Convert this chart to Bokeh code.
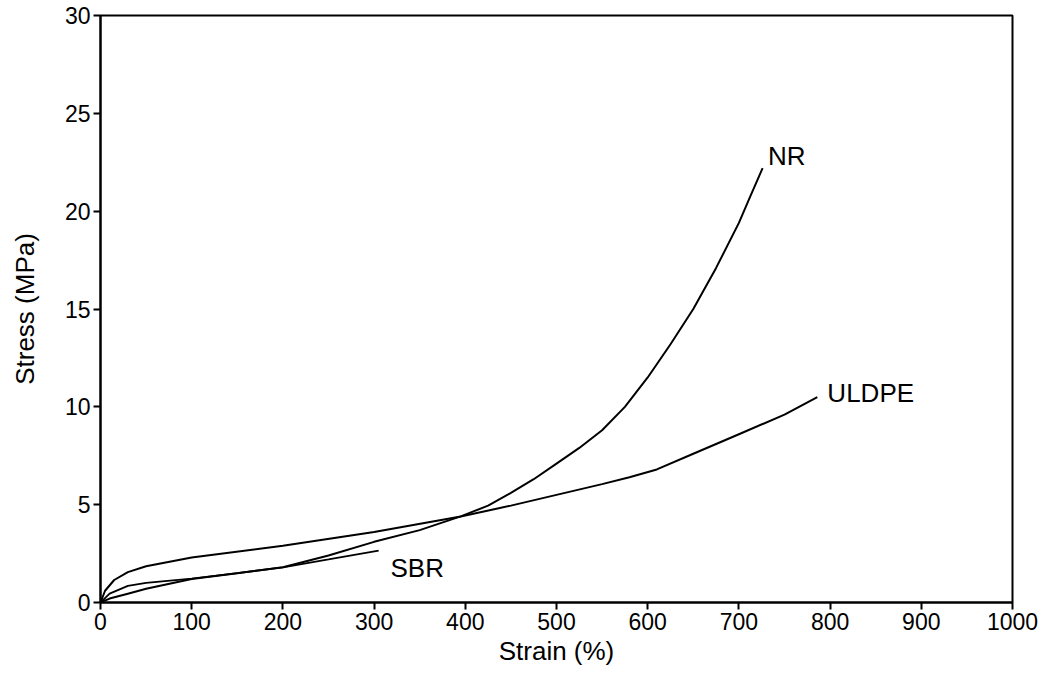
from bokeh.plotting import figure
from bokeh.models import Label, FixedTicker
from bokeh.embed import file_html
from bokeh.resources import INLINE

# Data
nr_strain = [0, 10, 30, 50, 100, 150, 200, 250, 300, 350, 395, 425, 450, 475, 500, 525, 550, 575, 600, 625, 650, 675, 700, 712, 726]
nr_stress = [0, 0.2, 0.45, 0.7, 1.2, 1.5, 1.8, 2.4, 3.1, 3.7, 4.4, 4.95, 5.6, 6.3, 7.1, 7.9, 8.8, 10.0, 11.5, 13.2, 15.0, 17.1, 19.4, 20.7, 22.2]

uldpe_strain = [0, 5, 15, 30, 50, 100, 200, 300, 395, 450, 500, 550, 580, 610, 650, 700, 750, 786]
uldpe_stress = [0, 0.6, 1.15, 1.55, 1.85, 2.3, 2.9, 3.6, 4.4, 4.95, 5.5, 6.05, 6.4, 6.8, 7.6, 8.6, 9.6, 10.5]

sbr_strain = [0, 10, 30, 50, 100, 150, 200, 250, 305]
sbr_stress = [0, 0.45, 0.85, 1.0, 1.22, 1.5, 1.8, 2.2, 2.65]

x_ticks = [0, 100, 200, 300, 400, 500, 600, 700, 800, 900, 1000]
y_ticks = [0, 5, 10, 15, 20, 25, 30]

FONT = "Liberation Sans"

p = figure(width=1048, height=678, output_backend="svg", toolbar_location=None,
           x_range=(0, 1000), y_range=(0, 30))
p.min_border_left = 100
p.min_border_right = 36
p.min_border_top = 15
p.min_border_bottom = 76
p.background_fill_color = "white"
p.border_fill_color = "white"
p.outline_line_color = "black"
p.outline_line_width = 2
p.xgrid.visible = False
p.ygrid.visible = False

for ax in (p.xaxis[0], p.yaxis[0]):
    ax.axis_line_width = 2
    ax.axis_line_color = "black"
    ax.major_tick_line_width = 2
    ax.major_tick_in = 0
    ax.major_tick_out = 7
    ax.minor_tick_line_color = None
    ax.major_label_text_font = FONT
    ax.major_label_text_font_size = "23px"
    ax.major_label_text_color = "black"
    ax.axis_label_text_font = FONT
    ax.axis_label_text_font_size = "26px"
    ax.axis_label_text_font_style = "normal"
    ax.axis_label_text_color = "black"

p.xaxis.ticker = FixedTicker(ticks=x_ticks)
p.yaxis.ticker = FixedTicker(ticks=y_ticks)
p.xaxis.axis_label = "Strain (%)"
p.yaxis.axis_label = "Stress (MPa)"
p.xaxis.major_label_standoff = 3
p.yaxis.major_label_standoff = 3
p.xaxis.axis_label_standoff = 3
p.yaxis.axis_label_standoff = 22

p.line(nr_strain, nr_stress, line_color="black", line_width=2)
p.line(uldpe_strain, uldpe_stress, line_color="black", line_width=2)
p.line(sbr_strain, sbr_stress, line_color="black", line_width=1.8)

labels = ["NR", "ULDPE", "SBR"]
label_x = [732, 797, 318]
label_y = [22.8, 10.7, 1.75]
for t, lx, ly in zip(labels, label_x, label_y):
    p.add_layout(Label(x=lx, y=ly, text=t, text_font=FONT, text_font_size="26px",
                       text_color="black", text_baseline="alphabetic"))

open("out.html", "w").write(file_html(p, INLINE))
